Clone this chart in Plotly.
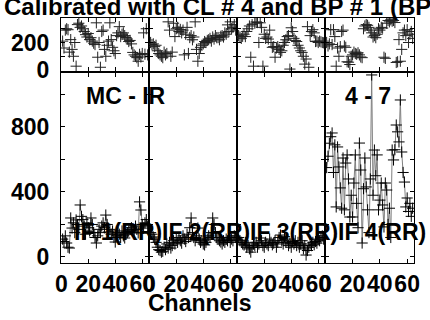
import plotly.graph_objects as go

W, H = 430, 320

channels = list(range(1, 65))

# phase (top row), one list per IF
phase_if1 = [210, 160, 290, 300, 293, 130, 221, 150, 100, 200, 28, 330, 340, 310, 320, 300,
             280, 257, 240, 265, 221, 235, 210, 195, 185, 343, 93, 200, 20, 280, 290, 150,
             100, 180, 210, 343, 221, 165, 140, 120, 250, 270, 315, 243, 260, 270, 250, 236,
             225, 207, 215, 190, 128, 110, 100, 90, 64, 114, 95, 120, 270, 115, 300, 110]
phase_if2 = [200, 185, 190, 170, 180, 140, 120, 110, 100, 90, 130, 110, 120, 350, 290, 100,
             130, 340, 243, 300, 310, 280, 295, 270, 290, 110, 260, 310, 120, 236, 250, 220,
             240, 350, 150, 64, 120, 165, 180, 190, 207, 200, 215, 220, 230, 210, 240, 225,
             250, 235, 236, 220, 245, 250, 240, 270, 260, 328, 280, 350, 300, 310, 330, 290]
phase_if3 = [250, 240, 230, 245, 260, 243, 280, 300, 320, 93, 330, 28, 340, 350, 345, 200,
             343, 310, 28, 260, 230, 240, 225, 290, 200, 165, 170, 93, 160, 170, 150, 128,
             140, 180, 200, 220, 243, 250, 7, 307, 280, 230, 215, 207, 180, 160, 140, 128,
             100, 43, 80, 315, 20, 250, 280, 293, 270, 207, 210, 200, 210, 205, 200, 198]
phase_if4 = [200, 175, 190, 293, 185, 293, 243, 28, 160, 100, 170, 280, 290, 175, 165, 60,
             57, 40, 100, 110, 130, 120, 115, 125, 110, 95, 90, 300, 320, 330, 325, 310,
             290, 270, 240, 250, 235, 260, 300, 290, 310, 305, 93, 85, 340, 360, 350, 365,
             355, 360, 345, 55, 60, 221, 64, 150, 270, 290, 250, 293, 200, 260, 280, 230]

# amplitude (bottom row)
amp_if1 = [110, 95, 130, 86, 60, 55, 240, 178, 210, 150, 228, 200, 170, 320, 250, 230,
           190, 140, 210, 180, 160, 240, 200, 150, 120, 86, 130, 170, 150, 190, 210, 180,
           258, 200, 154, 170, 140, 160, 120, 92, 130, 150, 140, 120, 160, 130, 117, 140,
           150, 160, 170, 180, 160, 150, 190, 170, 148, 339, 289, 200, 178, 210, 230, 190]
amp_if2 = [150, 140, 123, 110, 90, 60, 45, 40, 30, 35, 60, 45, 80, 55, 90, 55,
           70, 100, 80, 110, 90, 120, 100, 85, 130, 110, 95, 140, 120, 180, 240, 150,
           120, 100, 130, 178, 110, 90, 100, 80, 74, 90, 110, 130, 120, 150, 240, 200,
           150, 120, 110, 100, 92, 80, 100, 90, 110, 100, 120, 90, 110, 100, 130, 120]
amp_if3 = [120, 100, 90, 80, 74, 90, 60, 70, 50, 30, 60, 80, 70, 90, 60, 80,
           117, 100, 70, 60, 90, 80, 70, 110, 90, 75, 85, 100, 60, 90, 120, 135,
           100, 80, 125, 90, 110, 70, 85, 60, 95, 80, 100, 70, 90, 60, 80, 100,
           50, 70, 12, 40, 60, 80, 70, 90, 75, 95, 85, 110, 100, 120, 130, 110]
amp_if4 = [550, 620, 700, 740, 763, 520, 690, 308, 677, 554, 425, 300, 609, 290, 578, 628,
           480, 246, 380, 246, 455, 628, 330, 180, 701, 535, 86, 420, 609, 431, 290, 150,
           480, 1120, 380, 658, 500, 628, 290, 350, 455, 320, 185, 455, 412, 200, 300, 120,
           658, 597, 660, 812, 770, 708, 966, 646, 520, 461, 308, 363, 280, 330, 250, 300]

phases = [phase_if1, phase_if2, phase_if3, phase_if4]
amps = [amp_if1, amp_if2, amp_if3, amp_if4]
if_labels = ["IF 1(RR)", "IF 2(RR)", "IF 3(RR)", "IF 4(RR)"]

x_ticks = [0, 20, 40, 60]
x_ticktext = ["0", "20", "40", "60"]
phase_ticks = [0, 100, 200, 300]
phase_ticktext = ["0", "", "200", ""]
amp_ticks = [0, 200, 400, 600, 800, 1000]
amp_ticktext = ["0", "", "400", "", "800", ""]


def px_x(p):
    return p / W


def px_y(p):
    return 1 - p / H


lefts = [61, 149, 237, 325, 414]
top_dom = [px_y(71), px_y(18)]
bot_dom = [px_y(263), px_y(73)]

font_b = dict(family="Liberation Sans", size=23, color="black", weight="bold")
ax_common = dict(showline=True, linecolor="black", linewidth=1, mirror="ticks",
                 ticks="inside", ticklen=4, tickwidth=1, tickcolor="black",
                 showgrid=False, tickfont=font_b, automargin=False, tickangle=0,
                 ticklabeloverflow="allow")

fig = go.Figure()
layout = {}
for i in range(4):
    dom = [px_x(lefts[i]), px_x(lefts[i + 1])]
    t = i + 1
    b = i + 5
    # phase panel
    fig.add_trace(go.Scatter(x=channels, y=phases[i], mode="markers",
                             marker=dict(symbol="cross-thin", size=8,
                                         line=dict(width=1, color="#222")),
                             xaxis="x%d" % t, yaxis="y%d" % t))
    # amplitude panel
    fig.add_trace(go.Scatter(x=channels, y=amps[i], mode="lines+markers",
                             line=dict(color="#808080", width=1),
                             marker=dict(symbol="cross-thin", size=8,
                                         line=dict(width=1, color="black")),
                             xaxis="x%d" % b, yaxis="y%d" % b))
    layout["xaxis%d" % t] = dict(ax_common, domain=dom, range=[-0.2, 65], anchor="y%d" % t,
                                 tickvals=x_ticks, showticklabels=False, zeroline=False)
    layout["yaxis%d" % t] = dict(ax_common, domain=top_dom, range=[-7, 378], anchor="x%d" % t,
                                 tickvals=phase_ticks, ticktext=phase_ticktext,
                                 showticklabels=(i == 0), zeroline=True,
                                 zerolinecolor="#999999", zerolinewidth=2,
                                 ticklabelstandoff=6)
    layout["xaxis%d" % b] = dict(ax_common, domain=dom, range=[-0.2, 65], anchor="y%d" % b,
                                 tickvals=x_ticks, ticktext=x_ticktext,
                                 showticklabels=True, zeroline=False)
    layout["yaxis%d" % b] = dict(ax_common, domain=bot_dom, range=[-37, 1132], anchor="x%d" % b,
                                 tickvals=amp_ticks, ticktext=amp_ticktext,
                                 showticklabels=(i == 0), zeroline=False,
                                 ticklabelstandoff=6)

fig.update_layout(**layout)

ann_font = dict(family="Liberation Sans", size=23, color="black", weight="bold")
annotations = [
    dict(text="Calibrated with CL # 4 and BP # 1 (BP", x=px_x(3), y=px_y(6.7),
         xanchor="left", yanchor="middle", font=dict(ann_font, size=24)),
    dict(text="MC - IR", x=px_x(85), y=px_y(96.5), xanchor="left", yanchor="middle",
         font=ann_font),
    dict(text="4 - 7", x=px_x(344), y=px_y(96.5), xanchor="left", yanchor="middle",
         font=ann_font),
    dict(text="Channels", x=px_x(200), y=px_y(303), xanchor="center", yanchor="middle",
         font=ann_font),
]
for i, lab in enumerate(if_labels):
    annotations.append(dict(text=lab, x=px_x(lefts[i] + 12), y=px_y(232),
                            xanchor="left", yanchor="middle", font=ann_font))
for a in annotations:
    a.update(xref="paper", yref="paper", showarrow=False, borderpad=0)

fig.update_layout(template="none", width=W, height=H, margin=dict(l=0, r=0, t=0, b=0),
                  paper_bgcolor="white", plot_bgcolor="white", showlegend=False,
                  annotations=annotations)

fig.write_html("out.html", config={"displayModeBar": False},
               post_script="document.body.style.margin = '0';")
